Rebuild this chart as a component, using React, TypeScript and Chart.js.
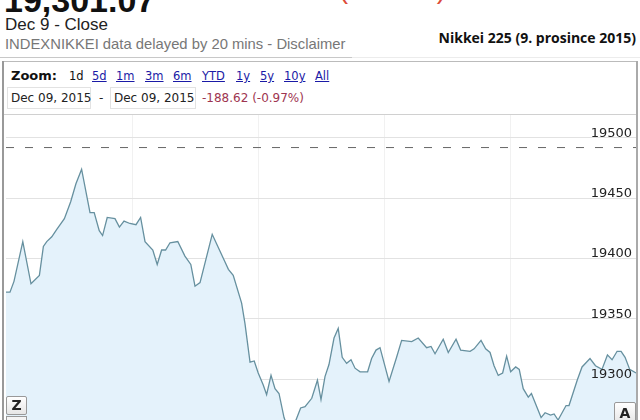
import React, { useEffect, useRef } from "react";
import { Chart, registerables } from "chart.js";

Chart.register(...registerables);

// trading minutes since open (0 = 9:00, 300 = close)
const minutes = [
  0, 1.9, 3.8, 8.0, 11.9, 15.9, 17.8, 19.4, 21.8, 24.1, 27.8, 30.8, 33.3, 36.0, 40.0, 42.0, 44.4, 46.0,
  48.2, 51.9, 54.0, 56.2, 59.0, 61.9, 64.1, 66.2, 69.9, 72.0, 74.1, 76.0, 78.1, 81.8, 85.2, 88.0, 90.0,
  92.4, 98.2, 100.6, 104.3, 105.9, 108.2, 112.2, 113.8, 116.2, 118.2, 120.1, 122.5, 124.1, 126.2, 128.1,
  130.0, 132.4, 134.3, 136.2, 138.1, 140.3, 142.4, 145.6, 148.3, 150.0, 151.9, 153.8, 156.2, 158.2, 160.1,
  162.2, 164.3, 166.2, 168.6, 172.2, 174.1, 176.2, 178.1, 182.4, 186.0, 188.4, 193.2, 196.3, 200.3, 202.4,
  204.3, 208.2, 210.6, 214.3, 216.5, 221.0, 222.9, 226.2, 228.4, 230.5, 232.4, 234.4, 236.5, 238.4, 240.3,
  242.7, 244.4, 246.3, 248.7, 250.2, 254.8, 256.7, 259.3, 261.0, 262.9, 266.7, 268.1, 272.0, 274.3, 278.1,
  280.7, 283.8, 286.4, 288.6, 291.0, 292.9, 294.8, 297.0, 300.0,
];
const prices = [
  19372, 19372, 19381, 19414, 19379, 19386, 19410, 19414, 19418, 19424, 19433, 19447, 19462, 19474, 19438,
  19438, 19423, 19419, 19434, 19433, 19426, 19431, 19429, 19428, 19434, 19414, 19407, 19395, 19407, 19407,
  19413, 19414, 19402, 19395, 19377, 19380, 19420, 19411, 19397, 19391, 19386, 19363, 19346, 19314, 19315,
  19305, 19295, 19287, 19303, 19292, 19288, 19268, 19259, 19262, 19266, 19276, 19277, 19284, 19299, 19283,
  19302, 19312, 19334, 19342, 19318, 19313, 19316, 19309, 19306, 19306, 19317, 19324, 19326, 19298, 19318,
  19332, 19331, 19334, 19326, 19327, 19321, 19333, 19322, 19333, 19324, 19323, 19325, 19332, 19325, 19322,
  19311, 19303, 19305, 19319, 19306, 19310, 19308, 19292, 19285, 19288, 19268, 19272, 19270, 19271, 19266,
  19278, 19278, 19299, 19310, 19317, 19311, 19308, 19320, 19316, 19323, 19323, 19318, 19308, 19305,
];
const previousClose = 19492;
const priceTicks = [19300, 19350, 19400, 19450, 19500];
const hourTicks = [60, 120, 180, 240];
const zoomLinks = ["5d", "1m", "3m", "6m", "YTD", "1y", "5y", "10y", "All"];
const zoomLinkLefts = [92, 116, 145, 173, 202, 236, 260, 284, 315];

const abs = (s: React.CSSProperties): React.CSSProperties => ({ position: "absolute", ...s });

const priceLabels = {
  id: "priceLabels",
  afterDraw(chart: any) {
    const { ctx, chartArea, scales } = chart;
    ctx.save();
    ctx.font = "13px 'DejaVu Sans'";
    ctx.fillStyle = "#222";
    ctx.textAlign = "right";
    ctx.textBaseline = "alphabetic";
    priceTicks.forEach((v) => {
      const y = scales.y.getPixelForValue(v);
      ctx.fillText(String(v), chartArea.right - 4, y - 1);
    });
    ctx.restore();
  },
};

export default function App() {
  const canvasRef = useRef<HTMLCanvasElement | null>(null);

  useEffect(() => {
    if (!canvasRef.current) return;
    const chart = new Chart(canvasRef.current, {
      type: "line",
      data: {
        datasets: [
          {
            data: minutes.map((t, i) => ({ x: t, y: prices[i] })),
            borderColor: "#66909f",
            borderWidth: 1.3,
            backgroundColor: "#e4f2fb",
            fill: "start",
            pointRadius: 0,
            tension: 0,
          },
          {
            data: [
              { x: 0, y: previousClose },
              { x: 300, y: previousClose },
            ],
            borderColor: "#666",
            borderWidth: 1,
            borderDash: [8, 11],
            pointRadius: 0,
            fill: false,
          },
        ],
      },
      options: {
        animation: false,
        responsive: true,
        maintainAspectRatio: false,
        layout: { padding: 0 },
        plugins: { legend: { display: false }, tooltip: { enabled: false } },
        scales: {
          x: {
            type: "linear",
            min: 0,
            max: 300,
            afterBuildTicks: (axis: any) => {
              axis.ticks = hourTicks.map((v) => ({ value: v }));
            },
            ticks: { display: false },
            grid: { color: "#f1f1f1", drawTicks: false },
            border: { display: false },
          },
          y: {
            position: "right",
            min: 19266,
            max: 19519,
            z: 1,
            afterBuildTicks: (axis: any) => {
              axis.ticks = priceTicks.map((v) => ({ value: v }));
            },
            ticks: { display: false },
            grid: { color: "#e2e2e2", drawTicks: false },
            border: { display: false },
          },
        },
      },
      plugins: [priceLabels],
    });
    return () => chart.destroy();
  }, []);

  return (
    <div
      style={{
        position: "fixed",
        left: 0,
        top: 0,
        width: 640,
        height: 420,
        overflow: "hidden",
        background: "#fff",
        fontFamily: "'Liberation Sans', Arial, sans-serif",
      }}
    >
      {/* big header numbers (cut off at top) */}
      <div style={abs({ left: 4, top: -17, fontSize: 34, lineHeight: "34px", fontWeight: "bold", color: "#111", whiteSpace: "nowrap" })}>
        19,301.07
      </div>
      <div style={abs({ left: 236, top: -25, fontSize: 28, lineHeight: "28px", color: "#dd4b39", whiteSpace: "nowrap" })}>
        -188.62 (-0.97%)
      </div>

      <div style={abs({ left: 5, top: 15, fontSize: 17, lineHeight: "20px", color: "#222", whiteSpace: "nowrap" })}>
        Dec 9 - Close
      </div>
      <div style={abs({ left: 5, top: 36, fontSize: 14.8, lineHeight: "16px", color: "#777", whiteSpace: "nowrap" })}>
        INDEXNIKKEI data delayed by 20 mins - Disclaimer
      </div>
      <div
        style={abs({
          right: 4,
          top: 30,
          fontSize: 14,
          lineHeight: "16px",
          fontWeight: "bold",
          color: "#111",
          fontFamily: "'Open Sans', sans-serif",
          whiteSpace: "nowrap",
        })}
      >
        Nikkei 225 (9. prosince 2015)
      </div>

      {/* separator */}
      <div style={abs({ left: 0, top: 57, width: 352, height: 1, background: "#c8c8c8" })} />
      <div style={abs({ left: 352, top: 57, width: 288, height: 1, background: "#ececec" })} />

      {/* chart box */}
      <div style={abs({ left: 2, top: 61, width: 636, height: 1, background: "#bbb" })} />
      <div style={abs({ left: 2, top: 61, width: 2, height: 370, background: "#999" })} />

      {/* zoom row */}
      <div style={abs({ left: 11, top: 67, fontSize: 13, lineHeight: "18px", fontWeight: "bold", color: "#111", fontFamily: "'DejaVu Sans', sans-serif" })}>
        Zoom:
      </div>
      <div style={abs({ left: 69, top: 68, fontSize: 11.5, lineHeight: "16px", color: "#111", fontFamily: "'DejaVu Sans', sans-serif" })}>1d</div>
      {zoomLinks.map((z, i) => (
        <div
          key={z}
          style={abs({
            left: zoomLinkLefts[i],
            top: 68,
            fontSize: 11.5,
            lineHeight: "16px",
            color: "#1a1aa6",
            textDecoration: "underline",
            fontFamily: "'DejaVu Sans', sans-serif",
            whiteSpace: "nowrap",
          })}
        >
          {z}
        </div>
      ))}

      {/* date row */}
      <div style={abs({ left: 7, top: 87, width: 84, height: 22, border: "1px solid #e2e2e2", boxSizing: "border-box" })} />
      <div style={abs({ left: 110, top: 87, width: 86, height: 22, border: "1px solid #e2e2e2", boxSizing: "border-box" })} />
      <div style={abs({ left: 11, top: 90, fontSize: 12, lineHeight: "16px", color: "#222", fontFamily: "'DejaVu Sans', sans-serif", whiteSpace: "nowrap" })}>
        Dec 09, 2015
      </div>
      <div style={abs({ left: 99, top: 90, fontSize: 12, lineHeight: "16px", color: "#222", fontFamily: "'DejaVu Sans', sans-serif" })}>-</div>
      <div style={abs({ left: 114, top: 90, fontSize: 12, lineHeight: "16px", color: "#222", fontFamily: "'DejaVu Sans', sans-serif", whiteSpace: "nowrap" })}>
        Dec 09, 2015
      </div>
      <div style={abs({ left: 202, top: 90, fontSize: 12, lineHeight: "16px", color: "#9e3550", fontFamily: "'DejaVu Sans', sans-serif", whiteSpace: "nowrap" })}>
        -188.62 (-0.97%)
      </div>

      {/* plot top line */}
      <div style={abs({ left: 4, top: 114, width: 634, height: 1, background: "#d0d0d0" })} />

      {/* chart canvas */}
      <div style={abs({ left: 6, top: 115, width: 630, height: 305 })}>
        <canvas ref={canvasRef} />
      </div>

      {/* right border */}
      <div style={abs({ left: 636, top: 61, width: 2, height: 370, background: "#aaa" })} />

      {/* Z / A buttons */}
      <div
        style={abs({
          left: 6,
          top: 396,
          width: 21,
          height: 19,
          border: "1px solid #999",
          borderRadius: 2,
          background: "linear-gradient(#fff, #e6e6e6)",
          boxSizing: "border-box",
          fontFamily: "'DejaVu Sans', sans-serif",
          fontWeight: "bold",
          fontSize: 14,
          lineHeight: "17px",
          textAlign: "center",
          color: "#222",
        })}
      >
        Z
      </div>
      <div style={abs({ left: 6, top: 416, width: 21, height: 6, border: "1px solid #999", boxSizing: "border-box", background: "#f4f4f4" })} />
      <div
        style={abs({
          left: 614,
          top: 402,
          width: 22,
          height: 22,
          border: "1px solid #999",
          borderRadius: 2,
          background: "linear-gradient(#fff, #e6e6e6)",
          boxSizing: "border-box",
          fontFamily: "'DejaVu Sans', sans-serif",
          fontWeight: "bold",
          fontSize: 14,
          lineHeight: "20px",
          textAlign: "center",
          color: "#222",
        })}
      >
        A
      </div>
    </div>
  );
}
